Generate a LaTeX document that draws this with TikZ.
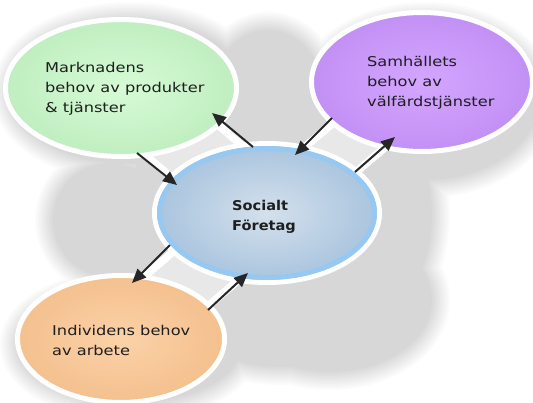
\documentclass[tikz,border=0pt]{standalone}
\usepackage{fontspec}
\usetikzlibrary{shapes.geometric,arrows.meta}
\newfontfamily\lblfont[FakeStretch=1.2]{DejaVu Sans}
\newfontfamily\lblbold[FakeStretch=1.08]{DejaVu Sans Bold}
\definecolor{gin}{HTML}{D6FBD6}
\definecolor{gout}{HTML}{C0EEC0}
\definecolor{pin}{HTML}{D4A6FF}
\definecolor{pout}{HTML}{C290F4}
\definecolor{oin}{HTML}{FBD2A8}
\definecolor{oout}{HTML}{F4C08E}
\definecolor{bin}{HTML}{D4E0EC}
\definecolor{bout}{HTML}{A8C4DE}
\definecolor{brim}{HTML}{96C8F2}
\definecolor{bridgecol}{HTML}{E8E8E8}
\definecolor{arrcol}{HTML}{262626}
\definecolor{txtcol}{HTML}{1E1E1E}
\pgfdeclarelayer{shadowlayer}
\pgfdeclarelayer{bridgelayer}
\pgfsetlayers{shadowlayer,bridgelayer,main}
\begin{document}
\begin{tikzpicture}[x=1pt,y=-1pt,
  bubble/.style={ellipse, draw=white, line width=5pt, inner sep=0pt, outer sep=0pt},
  link/.style={-{Triangle[length=14pt,width=12pt]}, draw=arrcol, line width=2pt},
  lbl/.style={font=\lblfont\fontsize{13.5}{20}\selectfont, text=txtcol, align=left, anchor=base west, inner sep=0pt},
  lblb/.style={lbl, font=\lblbold\fontsize{13.5}{20}\selectfont}]
\useasboundingbox (0,0) rectangle (533,402);
% soft grey backdrop
\begin{pgfonlayer}{shadowlayer}
\fill[white] (0,0) rectangle (533,402);
\def\blob{(280,215) ellipse [x radius=150pt, y radius=150pt]
  (268,98) ellipse [x radius=55pt, y radius=66pt]
  (130,92) ellipse [x radius=118pt, y radius=70pt]
  (425,100) ellipse [x radius=112pt, y radius=78pt]
  (130,345) ellipse [x radius=110pt, y radius=56pt]
  (110,220) ellipse [x radius=55pt, y radius=55pt]
  (330,300) ellipse [x radius=100pt, y radius=70pt]}
\foreach \k in {1,...,10}{
  \pgfmathsetmacro\lw{\k*4}
  \begin{scope}[transparency group, opacity=0.015]
    \filldraw[black, line width=\lw pt] \blob;
  \end{scope}}
\end{pgfonlayer}
% bubbles
\node[bubble, inner color=gin, outer color=gout, minimum width=231pt, minimum height=137pt] (G) at (121,88) {};
\node[bubble, inner color=pin, outer color=pout, minimum width=221pt, minimum height=139pt] (P) at (422,82) {};
\node[bubble, inner color=oin, outer color=oout, minimum width=207pt, minimum height=127pt] (O) at (121,339) {};
\node[bubble, inner color=bin, outer color=bout, minimum width=225pt, minimum height=139pt] (B) at (267,213) {};
\draw[brim, line width=5pt] (B.center) ellipse [x radius=107.5pt, y radius=64.5pt];
% bridges behind the bubbles
\begin{pgfonlayer}{bridgelayer}
\draw[white, line width=78pt] (G.center) -- (B.center);
\draw[bridgecol, line width=62pt] (G.center) -- (B.center);
\draw[white, line width=60pt] (P.center) -- (B.center);
\draw[bridgecol, line width=44pt] (P.center) -- (B.center);
\draw[white, line width=72pt] (O.center) -- (B.center);
\draw[bridgecol, line width=56pt] (O.center) -- (B.center);
\end{pgfonlayer}
% arrows
\draw[link] ([shift={(16,65)}]G.center) -- ([shift={(-90,-28)}]B.center);
\draw[link] ([shift={(-14,-66)}]B.center) -- ([shift={(91,25)}]G.center);
\draw[link] ([shift={(-90,36)}]P.center) -- ([shift={(28,-58)}]B.center);
\draw[link] ([shift={(88,-41)}]B.center) -- ([shift={(-27,55)}]P.center);
\draw[link] ([shift={(-97,32)}]B.center) -- ([shift={(11,-56)}]O.center);
\draw[link] ([shift={(87,-29)}]O.center) -- ([shift={(-19,60)}]B.center);
% labels (base = baseline of last line)
\node[lbl] (tG) at (45,112) {Marknadens\\behov av produkter\\\& tjänster};
\node[lbl] (tP) at (367,106) {Samhällets\\behov av\\välfärdstjänster};
\node[lblb] (tB) at (232,230) {Socialt\\Företag};
\node[lbl] (tO) at (52,355) {Individens behov\\av arbete};
\end{tikzpicture}
\end{document}
